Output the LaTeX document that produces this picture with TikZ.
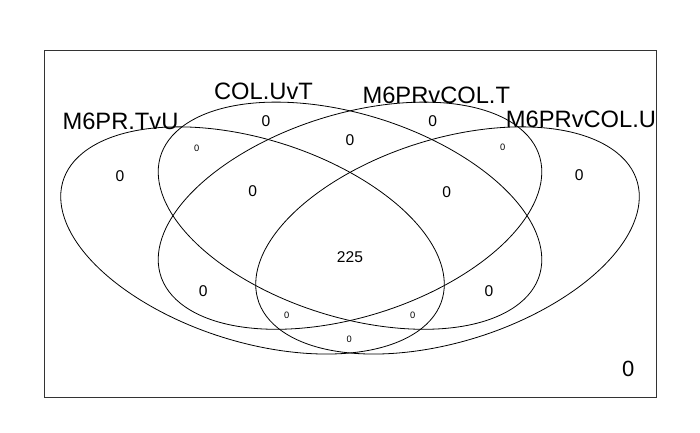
\documentclass[tikz,border=0pt]{standalone}
\usepackage{fontspec}
\setmainfont{Liberation Sans}
\usepackage{tikz}

\begin{document}
\begin{tikzpicture}[x=1pt,y=1pt,
	count/.style = {inner sep=0pt,font=\fontsize{15.6}{16}\selectfont},
	small count/.style = {inner sep=0pt,font=\fontsize{9.3}{10}\selectfont},
	set name/.style = {inner sep=0pt,anchor=base,font=\fontsize{23.7}{24}\selectfont},
	venn/.style = {line width=0.8pt,xscale=1.393,yscale=0.825}
	]
	\useasboundingbox (0,0) rectangle (700,432);
	%CORNICE
	\draw[line width=0.9pt, black!80] (44,34.7) rectangle (656,381.3);
	%CENTRI
	\coordinate (@E1) at (252.5,191.55);
	\coordinate (@E2) at (350,216.3);
	\coordinate (@E3) at (350,216.3);
	\coordinate (@E4) at (447.5,191.55);
	%ELLISSI
	\draw[shift={(@E1)}, venn, rotate=-45] (0,0) ellipse [x radius=162pt, y radius=108pt];
	\draw[shift={(@E2)}, venn, rotate=-45] (0,0) ellipse [x radius=162pt, y radius=108pt];
	\draw[shift={(@E3)}, venn, rotate=45] (0,0) ellipse [x radius=162pt, y radius=108pt];
	\draw[shift={(@E4)}, venn, rotate=45] (0,0) ellipse [x radius=162pt, y radius=108pt];
	%NOMI
	\node[set name] (@TvU) at (120.5,302.5) {M6PR.TvU};
	\node[set name] (@UvT) at (263.5,332.5) {COL.UvT};
	\node[set name] (@CT) at (436.3,329) {M6PRvCOL.T};
	\node[set name] (@CU) at (581,304.5) {M6PRvCOL.U};
	%CONTEGGI
	\node[count] (@1) at (120,256.3) {0};
	\node[count] (@2) at (266,311.3) {0};
	\node[count] (@3) at (350,292) {0};
	\node[count] (@4) at (432.7,311.3) {0};
	\node[count] (@5) at (579.3,257) {0};
	\node[small count] (@12) at (196.7,283.7) {0};
	\node[small count] (@34) at (502.7,284.3) {0};
	\node[count] (@123) at (252.7,241.3) {0};
	\node[count] (@234) at (446.7,240.3) {0};
	\node[count] (@1234) at (350,175.3) {225};
	\node[count] (@13) at (203.3,141) {0};
	\node[count] (@24) at (489,141) {0};
	\node[small count] (@134) at (286.7,117) {0};
	\node[small count] (@124) at (412.7,117) {0};
	\node[small count] (@14) at (349.3,93) {0};
	%FUORI
	\node[inner sep=0pt,font=\fontsize{22}{22}\selectfont] (@0) at (628.3,62.7) {0};
\end{tikzpicture}
\end{document}
